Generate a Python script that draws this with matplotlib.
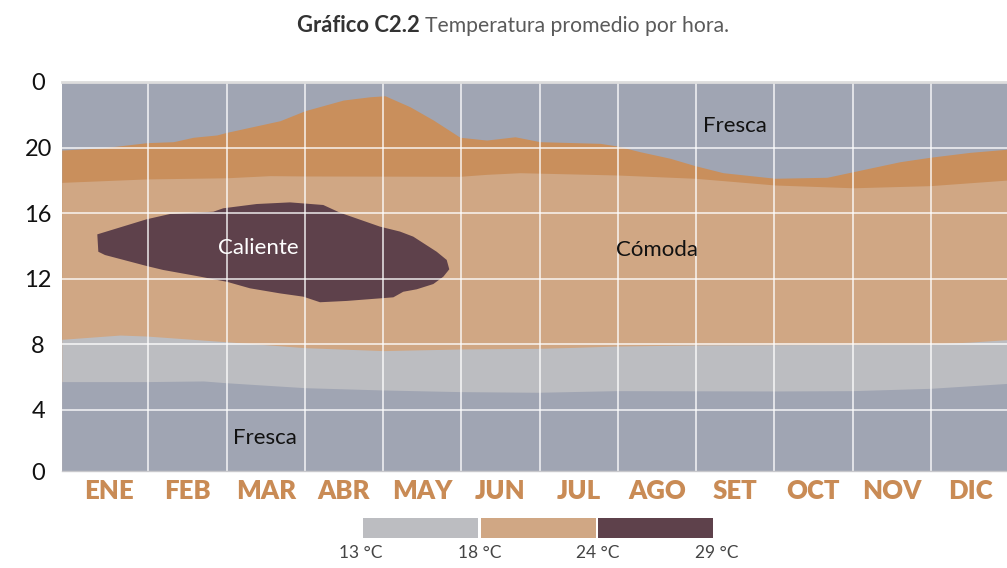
import matplotlib
matplotlib.use("Agg")
import matplotlib.pyplot as plt
from matplotlib.patches import Rectangle
import numpy as np

plt.rcParams['font.family'] = ['Lato', 'DejaVu Sans']

# ---------------- data ----------------
months = ["ENE", "FEB", "MAR", "ABR", "MAY", "JUN", "JUL", "AGO", "SET", "OCT", "NOV", "DIC"]
hour_ticks = [0.28, 4, 8, 12, 16, 20, 24]
hour_labels = ["0", "4", "8", "12", "16", "20", "0"]

# upper boundary of the 24-29 °C (orange) band, hours vs month position
warm_top_x = [-0.607, -0.075, 0.479, 0.819, 1.075, 1.374, 1.502, 2.183, 2.502, 2.992, 3.333, 3.525,
              3.844, 4.142, 4.483, 4.824, 5.186, 5.506, 6.272, 6.489, 6.783, 7.166, 7.486, 7.844,
              8.509, 9.173, 9.506, 10.106, 10.489, 11.0, 11.473]
warm_top_y = [19.85, 19.99, 20.30, 20.36, 20.63, 20.77, 20.93, 21.64, 22.25, 22.90, 23.10, 23.16,
              22.49, 21.68, 20.63, 20.46, 20.66, 20.36, 20.26, 20.10, 19.75, 19.35, 18.90, 18.47,
              18.13, 18.19, 18.53, 19.14, 19.41, 19.71, 19.90]

# boundary between comfortable (tan) and orange band, evening side
comfort_top_x = [-0.607, 0.479, 1.502, 2.055, 2.502, 4.483, 4.824, 5.250, 6.489, 7.486, 8.509, 9.506,
                 10.489, 11.473]
comfort_top_y = [17.88, 18.09, 18.16, 18.29, 18.27, 18.25, 18.37, 18.47, 18.33, 18.13, 17.72, 17.55,
                 17.68, 18.02]

# boundary between comfortable (tan) and 13-18 °C (gray), morning side
comfort_bot_x = [-0.607, 0.138, 0.479, 1.502, 2.502, 3.499, 4.483, 5.480, 5.953, 6.489, 7.550, 9.506,
                 10.489, 11.0, 11.473]
comfort_bot_y = [8.31, 8.57, 8.51, 8.16, 7.80, 7.62, 7.72, 7.76, 7.82, 7.90, 7.97, 8.00,
                 8.02, 8.14, 8.29]

# boundary between 13-18 °C (gray) and cool (blue-gray) band
mild_bot_x = [-0.607, 0.479, 1.203, 1.502, 2.502, 3.499, 4.483, 5.480, 6.489, 8.509, 9.506, 10.489, 11.473]
mild_bot_y = [5.73, 5.73, 5.77, 5.66, 5.36, 5.22, 5.12, 5.08, 5.18, 5.16, 5.18, 5.32, 5.62]

# hot zone (>29 °C) outline
hot_x = [-0.152, -0.139, -0.054, 0.479, 0.688, 1.118, 1.502, 1.799, 2.183, 2.481, 2.694, 3.035,
         3.631, 3.758, 3.930, 4.142, 4.270, 4.346, 4.313, 4.185, 3.886, 3.716, 3.461, 2.950,
         2.736, 2.311, 1.885, 1.458, 1.330, 0.776, 0.479]
hot_y = [14.71, 13.65, 13.45, 12.78, 12.54, 12.17, 11.82, 11.42, 11.11, 10.91, 10.57, 10.65,
         10.87, 11.21, 11.36, 11.68, 12.13, 12.58, 13.15, 13.65, 14.57, 14.88, 15.18, 16.03,
         16.50, 16.66, 16.56, 16.30, 16.09, 15.95, 15.63]

legend_labels = ["13 °C", "18 °C", "24 °C", "29 °C"]

# ---------------- style ----------------
c_cool = "#a0a5b3"
c_mild = "#bcbdc1"
c_comf = "#d0a784"
c_warm = "#c98f5c"
c_hot = "#5e414b"
c_month = "#c98b55"

W, H = 1007, 568
fig = plt.figure(figsize=(W / 100, H / 100), dpi=100)
ax = fig.add_axes([61.7 / W, 1 - 471 / H, 1 - 61.7 / W, (471 - 82) / H])
ax.set_facecolor(c_cool)
ax.set_xlim(-0.607, 11.473)
ax.set_ylim(0.28, 24)

ax.fill_between(warm_top_x, 0, warm_top_y, color=c_warm, lw=0, zorder=1)
ax.fill_between(comfort_top_x, 0, comfort_top_y, color=c_comf, lw=0, zorder=1.1)
ax.fill_between(comfort_bot_x, 0, comfort_bot_y, color=c_mild, lw=0, zorder=1.2)
ax.fill_between(mild_bot_x, 0, mild_bot_y, color=c_cool, lw=0, zorder=1.3)
ax.fill(hot_x, hot_y, color=c_hot, lw=0, zorder=1.4)

# ticks / grid
ax.set_xticks(range(len(months)))
ax.set_xticklabels(months, fontsize=18.5, fontweight='heavy', color=c_month)
ax.set_yticks(hour_ticks)
ax.set_yticklabels(hour_labels, fontsize=17, color="#111111")
for lab in ax.get_yticklabels():
    lab.set_ha('center')
ax.tick_params(axis='x', which='both', length=0, pad=6)
ax.tick_params(axis='y', which='both', length=0, pad=17)
ax.grid(False)
for xv in np.arange(len(months) - 1) + 0.5:
    ax.axvline(xv, color="white", lw=1.3, alpha=0.75, zorder=2.5)
for yv in [4, 8, 12, 16, 20]:
    ax.axhline(yv, color="white", lw=1.3, alpha=0.75, zorder=2.5)

for s in ['left', 'right']:
    ax.spines[s].set_visible(False)
ax.spines['top'].set_color("#dddddd")
ax.spines['top'].set_linewidth(2)
ax.spines['bottom'].set_color("#c8c8cc")
ax.spines['bottom'].set_linewidth(1)

# annotations
ax.text(8.0, 21.32, "Fresca", fontsize=16, color="#111111", ha='center', va='center', zorder=3)
ax.text(7.0, 13.76, "Cómoda", fontsize=16, color="#111111", ha='center', va='center', zorder=3)
ax.text(1.90, 13.88, "Caliente", fontsize=16, color="white", ha='center', va='center', zorder=3)
ax.text(1.99, 2.29, "Fresca", fontsize=16, color="#111111", ha='center', va='center', zorder=3)

# title
fig.text(420 / W, 1 - 26 / H, "Gráfico C2.2", fontsize=15.8, fontweight='bold', color="#333333",
         ha='right', va='center')
fig.text(425 / W, 1 - 26 / H, "Temperatura promedio por hora.", fontsize=15.2, fontweight='normal',
         color="#5a5a5a", ha='left', va='center')

# legend bar
leg_colors = [c_mild, c_comf, c_hot]
x0, seg, gap = 363, 115, 2.5
for i, c in enumerate(leg_colors):
    fig.patches.append(Rectangle(((x0 + i * (seg + gap)) / W, 1 - 538 / H), seg / W, 20 / H,
                                 transform=fig.transFigure, color=c, lw=0))
for i, lab in enumerate(legend_labels):
    fig.text((361 + i * 118.5) / W, 1 - 553 / H, lab, fontsize=12.5, fontweight='normal',
             color="#444444", ha='center', va='center')

fig.savefig("out.png", dpi=100)
